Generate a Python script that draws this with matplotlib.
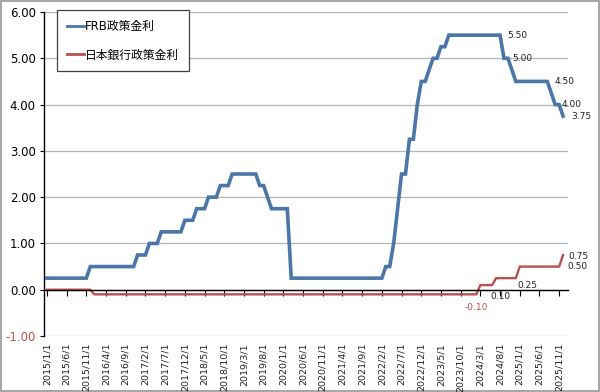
import matplotlib
matplotlib.use('Agg')
import matplotlib.pyplot as plt

plt.rcParams['font.family'] = ['DejaVu Sans', 'Noto Sans CJK JP']

# month-end policy rates, 2015/1 .. 2025/12
months = [f'{y}/{m}/1' for y in range(2015, 2026) for m in range(1, 13)]

frb = [
    0.25, 0.25, 0.25, 0.25, 0.25, 0.25, 0.25, 0.25, 0.25, 0.25, 0.25, 0.50,  # 2015
    0.50, 0.50, 0.50, 0.50, 0.50, 0.50, 0.50, 0.50, 0.50, 0.50, 0.50, 0.75,  # 2016
    0.75, 0.75, 1.00, 1.00, 1.00, 1.25, 1.25, 1.25, 1.25, 1.25, 1.25, 1.50,  # 2017
    1.50, 1.50, 1.75, 1.75, 1.75, 2.00, 2.00, 2.00, 2.25, 2.25, 2.25, 2.50,  # 2018
    2.50, 2.50, 2.50, 2.50, 2.50, 2.50, 2.25, 2.25, 2.00, 1.75, 1.75, 1.75,  # 2019
    1.75, 1.75, 0.25, 0.25, 0.25, 0.25, 0.25, 0.25, 0.25, 0.25, 0.25, 0.25,  # 2020
    0.25, 0.25, 0.25, 0.25, 0.25, 0.25, 0.25, 0.25, 0.25, 0.25, 0.25, 0.25,  # 2021
    0.25, 0.25, 0.50, 0.50, 1.00, 1.75, 2.50, 2.50, 3.25, 3.25, 4.00, 4.50,  # 2022
    4.50, 4.75, 5.00, 5.00, 5.25, 5.25, 5.50, 5.50, 5.50, 5.50, 5.50, 5.50,  # 2023
    5.50, 5.50, 5.50, 5.50, 5.50, 5.50, 5.50, 5.50, 5.00, 5.00, 4.75, 4.50,  # 2024
    4.50, 4.50, 4.50, 4.50, 4.50, 4.50, 4.50, 4.50, 4.25, 4.00, 4.00, 3.75,  # 2025
]

boj = [
    0.00, 0.00, 0.00, 0.00, 0.00, 0.00, 0.00, 0.00, 0.00, 0.00, 0.00, 0.00,  # 2015
    -0.10, -0.10, -0.10, -0.10, -0.10, -0.10, -0.10, -0.10, -0.10, -0.10, -0.10, -0.10,  # 2016
    -0.10, -0.10, -0.10, -0.10, -0.10, -0.10, -0.10, -0.10, -0.10, -0.10, -0.10, -0.10,  # 2017
    -0.10, -0.10, -0.10, -0.10, -0.10, -0.10, -0.10, -0.10, -0.10, -0.10, -0.10, -0.10,  # 2018
    -0.10, -0.10, -0.10, -0.10, -0.10, -0.10, -0.10, -0.10, -0.10, -0.10, -0.10, -0.10,  # 2019
    -0.10, -0.10, -0.10, -0.10, -0.10, -0.10, -0.10, -0.10, -0.10, -0.10, -0.10, -0.10,  # 2020
    -0.10, -0.10, -0.10, -0.10, -0.10, -0.10, -0.10, -0.10, -0.10, -0.10, -0.10, -0.10,  # 2021
    -0.10, -0.10, -0.10, -0.10, -0.10, -0.10, -0.10, -0.10, -0.10, -0.10, -0.10, -0.10,  # 2022
    -0.10, -0.10, -0.10, -0.10, -0.10, -0.10, -0.10, -0.10, -0.10, -0.10, -0.10, -0.10,  # 2023
    -0.10, -0.10, 0.10, 0.10, 0.10, 0.10, 0.25, 0.25, 0.25, 0.25, 0.25, 0.25,  # 2024
    0.50, 0.50, 0.50, 0.50, 0.50, 0.50, 0.50, 0.50, 0.50, 0.50, 0.50, 0.75,  # 2025
]

series_names = ['FRB政策金利', '日本銀行政策金利']
yticks = [-1, 0, 1, 2, 3, 4, 5, 6]

blue = '#4a76a8'
red = '#b9504c'

fig = plt.figure(figsize=(6, 3.92), dpi=100, edgecolor='#a8a8a8', linewidth=1.5)
ax = fig.add_axes([44 / 600, 1 - 336 / 392, 524 / 600, 324 / 392])

x = list(range(len(months)))
ax.plot(x, frb, color=blue, lw=2.6, label=series_names[0], solid_joinstyle='miter')
ax.plot(x, boj, color=red, lw=1.7, label=series_names[1])

ax.set_xlim(-0.75, 132.25)
ax.set_ylim(-1, 6)

# gridlines
ax.set_yticks(yticks)
ax.set_yticklabels([f'{v:.2f}' for v in yticks], fontsize=8.5)
ax.get_yticklabels()[0].set_color('#c0504d')
ax.yaxis.grid(True, color='#b4b4b4', lw=0.9)
ax.set_axisbelow(True)
ax.tick_params(axis='y', length=3, width=0.8, pad=3)

for s in ['top', 'right']:
    ax.spines[s].set_visible(False)
ax.spines['left'].set_linewidth(1.0)

# category axis crosses at 0, labels stay at the bottom
tick_idx = x[::5]
ax.spines['bottom'].set_position(('data', 0))
ax.spines['bottom'].set_linewidth(1.0)
ax.set_xticks(tick_idx)
ax.tick_params(axis='x', direction='out', length=4, width=0.8, labelbottom=False)

sec = ax.secondary_xaxis(0)
sec.set_xticks(tick_idx)
sec.set_xticklabels([months[i] for i in tick_idx], rotation=90, fontsize=6.8, color='#222222')
sec.tick_params(length=0, pad=5)
sec.spines['bottom'].set_visible(False)

# data labels
lab = dict(fontsize=6.5, color='#222222', va='center', textcoords='offset points')
ax.annotate('5.50', (115, frb[115]), xytext=(5, 0), ha='left', **lab)
ax.annotate('5.00', (117, frb[117]), xytext=(3, 0), ha='left', **lab)
ax.annotate('4.50', (127, frb[127]), xytext=(5, 0), ha='left', **lab)
ax.annotate('4.00', (130, frb[130]), xytext=(2, 0), ha='left', **lab)
ax.annotate('3.75', (131, frb[131]), xytext=(6, 0), ha='left', **lab)

ax.annotate('-0.10', (109, boj[109]), xytext=(0, -9.5), ha='center',
            **{**lab, 'color': '#c0504d'})
ax.annotate('0.10', (113, boj[113]), xytext=(6, -8), ha='center', **lab)
ax.annotate('0.25', (119, boj[119]), xytext=(8, -5), ha='center', **lab)
ax.annotate('0.50', (130, boj[130]), xytext=(6, 0), ha='left', **lab)
ax.annotate('0.75', (131, boj[131]), xytext=(4, -1), ha='left', **lab)

leg = ax.legend(loc='upper left', bbox_to_anchor=(57 / 600, 1 - 10 / 392),
                bbox_transform=fig.transFigure, borderaxespad=0, fontsize=8.5,
                handlelength=1.4, handletextpad=0.1, labelspacing=1.3,
                borderpad=0.85, fancybox=False, framealpha=1)
leg.get_frame().set_edgecolor('#404040')
leg.get_frame().set_linewidth(0.9)
for h in leg.get_lines():
    h.set_linewidth(2.0)

fig.savefig('out.png', dpi=100, edgecolor=fig.get_edgecolor())
